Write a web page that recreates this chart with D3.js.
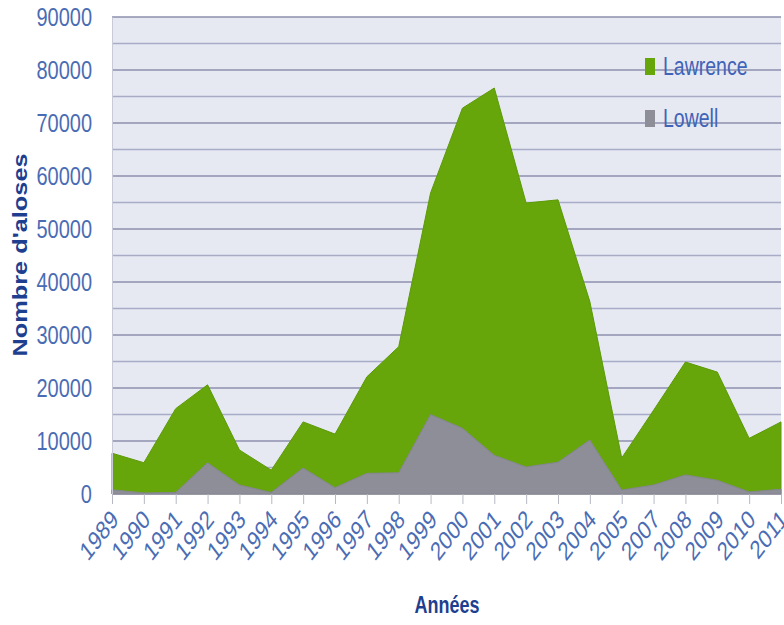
<!DOCTYPE html>
<html lang="fr">
<head>
<meta charset="UTF-8">
<title>Aloses</title>
<style>
    body { margin: 0; background: #fff; }
    text { font-family: "Liberation Sans", Arial, sans-serif; }
    .tick text { fill: #4a6cb4; }
    .titre { font-weight: bold; fill: #1e3f8f; }
    .legende text { font-size: 19.5px; fill: #4063b8; }
</style>
</head>
<body>
<svg width="784" height="625"></svg>
<script src="https://cdn.jsdelivr.net/npm/d3@7"></script>
<script>

var annees = ["1989","1990","1991","1992","1993","1994","1995","1996","1997","1998","1999",
              "2000","2001","2002","2003","2004","2005","2007","2008","2009","2010","2011"];
var lawrence = [7700, 5900, 16100, 20600, 8300, 4500, 13600, 11300, 22100, 27800, 56800,
                72800, 76600, 54900, 55500, 36300, 6800, 15800, 24900, 23000, 10500, 13600];
var lowell = [800, 200, 300, 5900, 1700, 300, 4900, 1200, 3900, 4000, 15000,
              12400, 7300, 5100, 6000, 10200, 750, 1700, 3600, 2600, 400, 900];
var series = ["Lawrence", "Lowell"];
var couleurs = ["#66a60a", "#8d8e98"];
var yTicks = [0, 10000, 20000, 30000, 40000, 50000, 60000, 70000, 80000, 90000];

var svg = d3.select("svg"),
    gauche = 112, droite = 781, haut = 17, bas = 494;

var x = d3.scalePoint().domain(annees).range([gauche, droite]);
var y = d3.scaleLinear().domain([0, 90000]).range([bas, haut]);

// fond de la zone de tracé
svg.append("rect")
    .attr("x", gauche).attr("y", haut)
    .attr("width", droite - gauche).attr("height", bas - haut)
    .attr("fill", "#e6e8f2");

// quadrillage (tous les 5000)
svg.append("g").selectAll("line")
    .data(d3.range(5000, 90001, 5000))
    .enter().append("line")
    .attr("x1", gauche).attr("x2", droite)
    .attr("y1", function(d) { return y(d); })
    .attr("y2", function(d) { return y(d); })
    .attr("stroke", function(d) { return d % 10000 == 0 ? "#8c90ad" : "#a9acc6"; })
    .attr("stroke-width", 1.5);

var area = function(vals) {
    return d3.area()
        .x(function(d, i) { return x(annees[i]); })
        .y0(y(0))
        .y1(function(d) { return y(d); })(vals);
};

svg.append("path").attr("d", area(lawrence))
    .attr("fill", couleurs[0]).attr("stroke", "#5c9a06").attr("stroke-width", 1);
svg.append("path").attr("d", area(lowell))
    .attr("fill", couleurs[1]).attr("stroke", "#858690").attr("stroke-width", 1);

// axe Y
var yAxis = svg.append("g")
    .attr("transform", "translate(" + gauche + ",0)")
    .call(d3.axisLeft(y).tickValues(yTicks).tickSize(0).tickPadding(20).tickFormat(d3.format("d")));
yAxis.select(".domain").attr("stroke", "#c8cad8");
yAxis.selectAll("text")
    .attr("font-size", 20)
    .attr("x", null).attr("dy", null)
    .attr("transform", function(d) { return "translate(-20," + y(d) + ") scale(1,1.3) translate(0,7)"; });
yAxis.selectAll(".tick").attr("transform", null);

// axe X
var xAxis = svg.append("g")
    .attr("transform", "translate(0," + bas + ")")
    .call(d3.axisBottom(x).tickSize(10).tickSizeOuter(0));
xAxis.select(".domain").attr("stroke", "#9a9aa6");
xAxis.selectAll("line").attr("stroke", "#b8b8c4");
xAxis.selectAll("text")
    .attr("font-size", 20)
    .attr("text-anchor", "end")
    .attr("y", 0).attr("dy", 0)
    .attr("transform", "translate(7,27) scale(1,1.3) rotate(-45)");

// titres
svg.append("text").attr("class", "titre")
    .attr("font-size", 19.5)
    .attr("text-anchor", "middle")
    .attr("transform", "translate(27,255) rotate(-90) scale(1.3,1)")
    .text("Nombre d'aloses");

svg.append("text").attr("class", "titre")
    .attr("font-size", 18)
    .attr("text-anchor", "middle")
    .attr("transform", "translate(447,613) scale(1,1.3)")
    .text("Années");

// légende
var leg = svg.append("g").attr("class", "legende")
    .selectAll("g").data(series).enter().append("g")
    .attr("transform", function(d, i) { return "translate(645," + (58 + i * 52) + ")"; });
leg.append("rect")
    .attr("width", 10).attr("height", 17)
    .attr("fill", function(d, i) { return couleurs[i]; });
leg.append("text")
    .attr("transform", "translate(18,17) scale(1,1.3)")
    .text(function(d) { return d; });

</script>
</body>
</html>
